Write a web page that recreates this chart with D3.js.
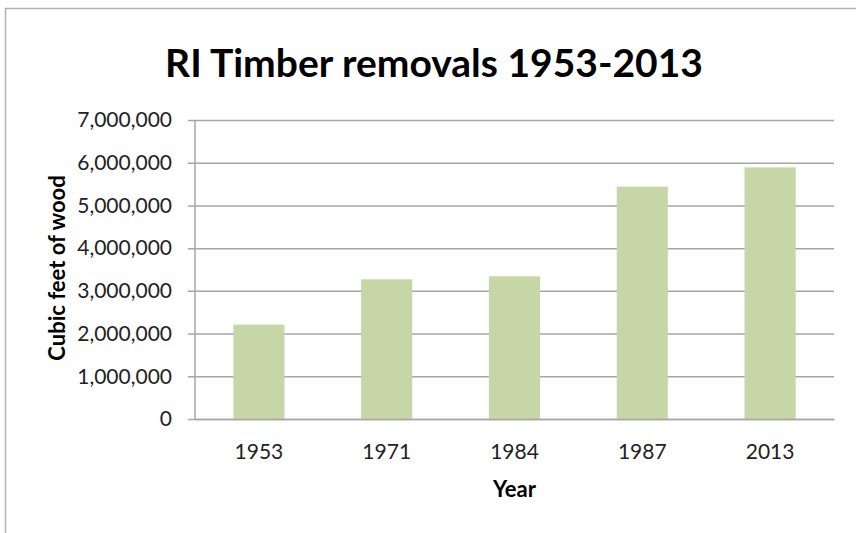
<!DOCTYPE html>
<html>
<head>
<meta charset="utf-8">
<script src="https://cdn.jsdelivr.net/npm/d3@7"></script>
<style>
  body { margin: 0; background: #fff; }
  text { font-family: Lato, "Open Sans", sans-serif; }
</style>
</head>
<body>
<div id="chart"></div>
<script>
// data
var years = ["1953", "1971", "1984", "1987", "2013"];
var removals = [2210000, 3270000, 3340000, 5440000, 5890000];
var yTicks = [0, 1000000, 2000000, 3000000, 4000000, 5000000, 6000000, 7000000];

var svgWidth = 856;
var svgHeight = 533;
var margin = {top: 120, right: 22, bottom: 114, left: 195};
var chartWidth = svgWidth - margin.left - margin.right;
var chartHeight = svgHeight - margin.top - margin.bottom;

var svg = d3.select("#chart")
    .append("svg")
    .attr("width", svgWidth)
    .attr("height", svgHeight);

// outer frame (only top and left edges show in the crop)
svg.append("path")
    .attr("d", "M5.5," + svgHeight + "V8.5H" + svgWidth)
    .attr("fill", "none")
    .attr("stroke", "#b3b3b3")
    .attr("stroke-width", 1.5);

var chartGroup = svg.append("g")
    .attr("transform", `translate(${margin.left}, ${margin.top})`);

var xBandScale = d3.scaleBand()
    .domain(years)
    .range([0, chartWidth])
    .paddingInner(0.6)
    .paddingOuter(0.3);

var yLinearScale = d3.scaleLinear()
    .domain([0, 7000000])
    .range([chartHeight, 0]);

// gridlines + y axis
var yAxis = d3.axisLeft(yLinearScale)
    .tickValues(yTicks)
    .tickSize(-chartWidth - 7)
    .tickPadding(16)
    .tickFormat(d3.format(","));

var yAxisGroup = chartGroup.append("g")
    .attr("transform", "translate(-7,0)")
    .call(yAxis);
yAxisGroup.select(".domain").remove();
yAxisGroup.selectAll(".tick line")
    .attr("stroke", "#a6a6a6")
    .attr("stroke-width", 1.5);
yAxisGroup.selectAll(".tick text")
    .attr("x", -16)
    .style("font-size", "21px")
    .style("fill", "#222");

// vertical axis line
chartGroup.append("line")
    .attr("x1", 0).attr("x2", 0)
    .attr("y1", 0).attr("y2", chartHeight)
    .attr("stroke", "#a6a6a6")
    .attr("stroke-width", 1.5);

// bars
chartGroup.selectAll("rect.bar")
    .data(removals)
    .enter()
    .append("rect")
    .classed("bar", true)
    .attr("x", (d, i) => xBandScale(years[i]))
    .attr("y", d => yLinearScale(d))
    .attr("width", xBandScale.bandwidth())
    .attr("height", d => chartHeight - yLinearScale(d))
    .attr("fill", "#c6d6a6");

// x axis
var xAxis = d3.axisBottom(xBandScale).tickSize(0).tickPadding(25);
var xAxisGroup = chartGroup.append("g")
    .attr("transform", `translate(0, ${chartHeight})`)
    .call(xAxis);
xAxisGroup.select(".domain")
    .attr("stroke", "#a6a6a6")
    .attr("stroke-width", 1.5);
xAxisGroup.selectAll(".tick text")
    .style("font-size", "21px")
    .style("fill", "#222");

// title
svg.append("text")
    .attr("x", 434)
    .attr("y", 77)
    .attr("text-anchor", "middle")
    .style("font-size", "39px")
    .style("font-weight", "bold")
    .style("fill", "#000")
    .text("RI Timber removals 1953-2013");

// axis labels
svg.append("text")
    .attr("transform", "translate(65, 268) rotate(-90)")
    .attr("text-anchor", "middle")
    .style("font-size", "22px")
    .style("font-weight", "bold")
    .text("Cubic feet of wood");

svg.append("text")
    .attr("x", margin.left + chartWidth / 2)
    .attr("y", 497)
    .attr("text-anchor", "middle")
    .style("font-size", "22px")
    .style("font-weight", "bold")
    .text("Year");
</script>
</body>
</html>
